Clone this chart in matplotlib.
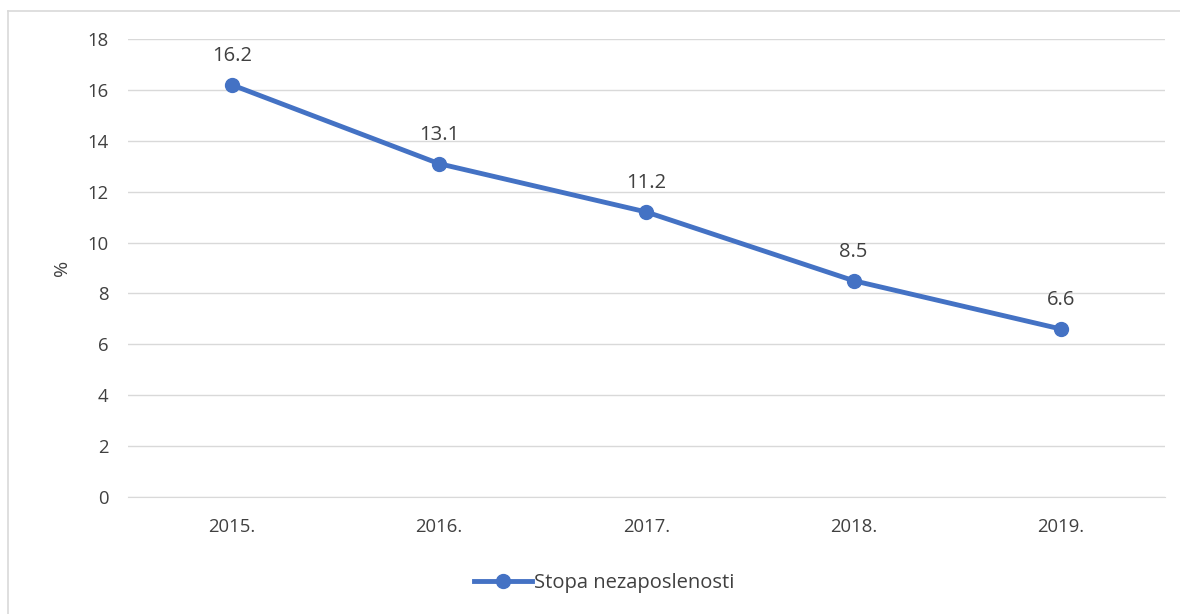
import numpy as np
import matplotlib
matplotlib.use("Agg")
import matplotlib.pyplot as plt
from matplotlib.lines import Line2D

years = ["2015.", "2016.", "2017.", "2018.", "2019."]
rate = [16.2, 13.1, 11.2, 8.5, 6.6]
series_name = "Stopa nezaposlenosti"

plt.rcParams["font.family"] = ["Open Sans", "DejaVu Sans"]
BLUE = "#4472C4"
GRID = "#D9D9D9"
TXT = "#404040"

fig = plt.figure(figsize=(11.8, 6.14), dpi=100)
ax = fig.add_axes([0.1085, 0.1906, 0.8785, 0.7459])

x = np.arange(len(years))
ax.plot(x, rate, color=BLUE, lw=3.5, marker="o", ms=10, zorder=3)
for xi, v in zip(x, rate):
    ax.annotate(f"{v:.1f}", (xi, v), xytext=(0, 17), textcoords="offset points",
                ha="center", va="baseline", fontsize=14.5, color=TXT)

ax.set_xlim(-0.5, len(years) - 0.5)
ax.set_ylim(0, 18)
ax.set_yticks(range(0, 19, 2))
ax.set_xticks(x)
ax.set_xticklabels(years)
ax.tick_params(length=0, labelsize=13.3, colors=TXT)
ax.tick_params(axis="x", pad=15)
ax.tick_params(axis="y", pad=14)
ax.grid(axis="y", color=GRID, lw=1)
ax.set_axisbelow(True)
for s in ["top", "right", "left"]:
    ax.spines[s].set_visible(False)
ax.spines["bottom"].set_color(GRID)
ax.set_ylabel("%", fontsize=14, color=TXT, labelpad=12)

handle = Line2D([], [], color=BLUE, lw=3.5, marker="o", ms=10)
fig.legend([handle], [series_name], loc="center", bbox_to_anchor=(0.512, 0.051),
           frameon=False, fontsize=14.5, labelcolor=TXT, handlelength=2.9, handletextpad=0.1)

# chart frame: only left and top edges visible
fig.add_artist(Line2D([8 / 1180, 8 / 1180], [0, 1 - 11 / 614], transform=fig.transFigure,
                      color=GRID, lw=1.2))
fig.add_artist(Line2D([8 / 1180, 1], [1 - 11 / 614, 1 - 11 / 614], transform=fig.transFigure,
                      color=GRID, lw=1.2))

fig.savefig("out.png", dpi=100)
